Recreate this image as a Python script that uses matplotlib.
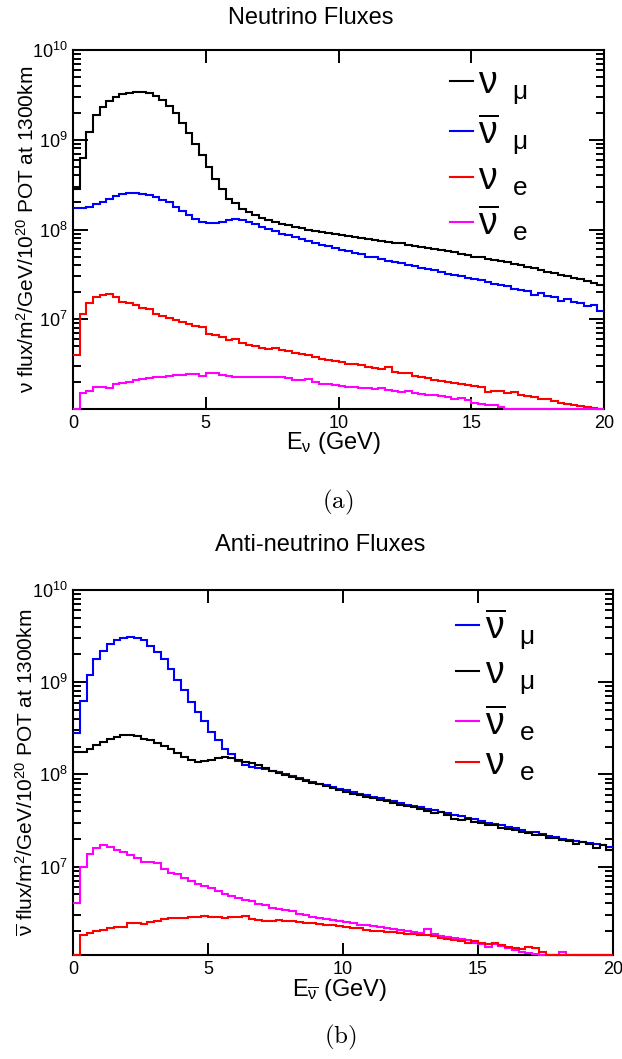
import numpy as np
import matplotlib
matplotlib.use('Agg')
import matplotlib.pyplot as plt
from matplotlib import font_manager

# pick a narrow helvetica-like face if there is one
def have_font(name):
    try:
        font_manager.findfont(font_manager.FontProperties(family=name), fallback_to_default=False)
        return True
    except ValueError:
        return False

fam = 'Liberation Sans Narrow' if have_font('Liberation Sans Narrow') else 'Liberation Sans'
plt.rcParams['font.family'] = [fam, 'DejaVu Sans']
plt.rcParams['mathtext.fontset'] = 'custom'
plt.rcParams['mathtext.rm'] = fam
plt.rcParams['mathtext.it'] = fam
plt.rcParams['mathtext.sf'] = fam
plt.rcParams['mathtext.bf'] = fam + ':bold'

# energy bins, GeV
energy_edges = np.linspace(0, 20, 81)
FLUX_UNIT = 1e6

# neutrino mode (FHC), flux in units of 1e6
fhc_numu = [280, 630, 1230, 1900, 2300, 2700, 3000, 3200,
            3350, 3400, 3400, 3300, 3100, 2800, 2400, 2000,
            1550, 1200, 900, 680, 500, 370, 280, 220,
            195, 170, 155, 145, 135, 127, 121, 116,
            112, 108, 104, 100, 97, 94, 92, 89,
            87, 85, 83, 81, 79, 77, 75, 73,
            71, 70, 68, 66, 64, 62, 61, 59,
            57, 56, 54, 52, 50, 49, 47, 46,
            44.5, 43, 41, 40, 38, 37, 35.5, 34,
            33, 31.5, 30.5, 29, 28, 26.5, 25.5, 24]
fhc_numubar = [175, 172, 180, 190, 205, 220, 235, 250,
               255, 255, 250, 240, 230, 215, 200, 180,
               160, 145, 132, 122, 118, 117, 122, 128,
               131, 128, 122, 115, 108, 102, 96, 90,
               86, 82, 78, 74, 71, 68, 65, 62,
               59, 57, 55, 53, 50, 49, 47, 45,
               43, 42, 40, 39, 37, 36, 35, 34,
               32, 31, 30, 29, 28, 27.5, 26, 25,
               24, 23.5, 22, 21, 20.5, 18.5, 19.5, 18,
               17.5, 16, 17, 15.5, 15, 14, 14.5, 12.5]
fhc_nue = [4.0, 11.3, 15, 17.5, 18.5, 19, 17.5, 15.5,
           15, 14.5, 13.5, 13, 11.5, 10.8, 10.2, 9.8,
           9.3, 8.8, 8.5, 8.2, 6.8, 6.7, 6.3, 5.9,
           6.0, 5.5, 5.2, 5.0, 4.8, 4.7, 4.8, 4.5,
           4.4, 4.2, 4.1, 4.0, 3.8, 3.6, 3.5, 3.4,
           3.3, 3.2, 3.15, 3.1, 2.95, 2.85, 2.8, 2.95,
           2.6, 2.5, 2.55, 2.35, 2.3, 2.2, 2.1, 2.05,
           2.0, 1.95, 1.9, 1.85, 1.8, 1.75, 1.55, 1.6,
           1.6, 1.5, 1.55, 1.45, 1.4, 1.35, 1.3, 1.28,
           1.22, 1.18, 1.15, 1.12, 1.08, 1.05, 1.03, 1.0]
fhc_nuebar = [0.9, 1.5, 1.58, 1.75, 1.78, 1.7, 1.9, 1.95,
              2.0, 2.1, 2.15, 2.2, 2.3, 2.3, 2.35, 2.4,
              2.4, 2.45, 2.45, 2.35, 2.5, 2.5, 2.4, 2.35,
              2.3, 2.3, 2.25, 2.25, 2.25, 2.3, 2.3, 2.25,
              2.2, 2.1, 2.1, 2.15, 2.0, 1.9, 1.9, 1.85,
              1.8, 1.78, 1.75, 1.72, 1.7, 1.68, 1.7, 1.62,
              1.6, 1.55, 1.58, 1.52, 1.48, 1.45, 1.42, 1.38,
              1.35, 1.3, 1.32, 1.25, 1.18, 1.15, 1.1, 1.1,
              1.05, 0.9, 0.9, 0.9, 0.9, 0.9, 0.9, 0.9,
              0.9, 0.9, 0.9, 0.9, 0.9, 0.9, 0.9, 0.9]

# anti-neutrino mode (RHC)
rhc_numubar = [280, 620, 1200, 1800, 2200, 2600, 2850, 3050,
               3100, 3050, 2850, 2500, 2100, 1800, 1400, 1050,
               820, 610, 470, 380, 290, 235, 190, 165,
               140, 128, 121, 117, 115, 110, 105, 100,
               95, 91, 87, 83, 79, 76, 73, 70,
               67, 64, 62, 60, 57, 55, 53, 51,
               49, 47, 46, 44, 42, 41, 39, 38,
               36, 35, 34, 32.5, 31, 30, 29, 28,
               27, 26, 25, 24, 23.5, 22.5, 21.5, 21,
               20, 19.5, 19, 18.5, 18, 17.5, 17, 16.5]
rhc_numu = [175, 176, 190, 210, 225, 240, 255, 265,
            265, 260, 245, 235, 220, 205, 190, 170,
            155, 142, 138, 140, 145, 150, 155, 152,
            145, 138, 132, 127, 116, 110, 104, 99,
            94, 90, 85, 81, 78, 74, 71, 68,
            65, 62, 60, 57, 55, 53, 51, 49,
            47, 45, 44, 42, 40, 38, 39, 36,
            33, 32, 33, 30.5, 29.5, 28, 28.5, 26.5,
            25.5, 25, 23.5, 23, 22, 22, 20.5, 20.5,
            19.5, 19, 17.5, 18.5, 17.5, 16, 17, 15]
rhc_nuebar = [4.0, 10, 13.8, 15.8, 17, 16.2, 15.2, 14.5,
              13.5, 12.5, 11.2, 11.2, 11, 9.5, 8.6, 8.3,
              7.5, 7.0, 6.5, 6.1, 5.8, 5.4, 5.0, 4.8,
              4.6, 4.3, 4.2, 3.9, 3.8, 3.6, 3.45, 3.35,
              3.3, 3.1, 3.0, 2.85, 2.8, 2.7, 2.65, 2.6,
              2.5, 2.45, 2.35, 2.3, 2.25, 2.2, 2.15, 2.1,
              2.05, 2.0, 1.95, 1.9, 2.1, 1.85, 1.78, 1.72,
              1.7, 1.62, 1.6, 1.5, 1.45, 1.35, 1.45, 1.38,
              1.3, 1.25, 1.2, 1.15, 1.12, 1.0, 1.0, 1.0,
              1.2, 1.0, 1.0, 1.0, 1.0, 1.0, 1.0, 1.0]
rhc_nue = [1.0, 1.8, 1.9, 2.0, 2.05, 2.15, 2.2, 2.2,
           2.45, 2.45, 2.4, 2.5, 2.6, 2.7, 2.75, 2.75,
           2.8, 2.85, 2.85, 2.9, 2.85, 2.85, 2.8, 2.85,
           2.85, 2.9, 2.7, 2.65, 2.6, 2.55, 2.65, 2.6,
           2.55, 2.5, 2.45, 2.45, 2.4, 2.35, 2.3, 2.25,
           2.2, 2.15, 2.15, 2.05, 2.0, 2.0, 1.95, 1.95,
           1.9, 1.85, 1.85, 1.8, 1.8, 1.75, 1.7, 1.65,
           1.6, 1.55, 1.5, 1.55, 1.5, 1.45, 1.48, 1.42,
           1.35, 1.3, 1.28, 1.35, 1.32, 1.2, 1.0, 1.0,
           1.0, 1.0, 1.0, 1.0, 1.0, 1.0, 1.0, 1.0]

x_ticks = [0, 5, 10, 15, 20]
x_ticklabels = ['0', '5', '10', '15', '20']
y_ticks = [1e7, 1e8, 1e9, 1e10]
y_ticklabels = [r'$10^{7}$', r'$10^{8}$', r'$10^{9}$', r'$10^{10}$']

lab_numu = r'$\nu\ \,_{\mu}$'
lab_numubar = r'$\overline{\nu}\ \,_{\mu}$'
lab_nue = r'$\nu\ \,_{e}$'
lab_nuebar = r'$\overline{\nu}\ \,_{e}$'

top_series = [(fhc_numu, 'black', lab_numu), (fhc_numubar, '#0000ff', lab_numubar),
              (fhc_nue, '#ff0000', lab_nue), (fhc_nuebar, '#ff00ff', lab_nuebar)]
bot_series = [(rhc_numubar, '#0000ff', lab_numubar), (rhc_numu, 'black', lab_numu),
              (rhc_nuebar, '#ff00ff', lab_nuebar), (rhc_nue, '#ff0000', lab_nue)]

W, H = 622, 1059
fig = plt.figure(figsize=(W / 100, H / 100), dpi=100)


def box(l, t, r, b):
    return [l / W, 1 - b / H, (r - l) / W, (b - t) / H]


def draw_panel(ax, series, ymin, h_px):
    for vals, col, lab in series:
        v = np.maximum(np.array(vals) * FLUX_UNIT, ymin)
        ax.stairs(v, energy_edges, baseline=None, color=col, lw=1.5,
                  label=lab, zorder=3, clip_on=False)
    ax.set_yscale('log')
    ax.set_xlim(0, 20)
    ax.set_ylim(ymin, 1e10)
    ax.set_xticks(x_ticks)
    ax.set_xticklabels(x_ticklabels)
    ax.set_yticks(y_ticks)
    ax.set_yticklabels(y_ticklabels)
    ax.yaxis.set_minor_locator(matplotlib.ticker.LogLocator(base=10, subs=np.arange(2, 10)))
    ax.yaxis.set_minor_formatter(matplotlib.ticker.NullFormatter())
    ax.xaxis.set_minor_locator(matplotlib.ticker.NullLocator())
    ax.tick_params(axis='both', which='both', direction='in', top=True, right=True,
                   labelsize=13, width=1.4)
    ax.tick_params(axis='x', which='major', length=9, pad=4)
    ax.tick_params(axis='y', which='major', length=11, pad=4)
    ax.tick_params(axis='y', which='minor', length=5.5)
    for sp in ax.spines.values():
        sp.set_linewidth(1.5)
    ax.legend(loc='upper left', bbox_to_anchor=(0.71, 1 - 16 / h_px), frameon=False,
              fontsize=27, handlelength=0.6, handletextpad=0.15, labelspacing=0.12,
              borderpad=0, borderaxespad=0)


ax1 = fig.add_axes(box(73, 50, 604, 409))
draw_panel(ax1, top_series, 1.0e6, 359)
ax2 = fig.add_axes(box(73, 590, 613, 955))
draw_panel(ax2, bot_series, 1.1e6, 365)

fig.text(311 / W, 1 - 18 / H, 'Neutrino Fluxes', ha='center', va='center', fontsize=17)
fig.text(320 / W, 1 - 545 / H, 'Anti-neutrino Fluxes', ha='center', va='center', fontsize=17)
fig.text(27 / W, 1 - 229 / H, r'$\nu$ flux/m$^{2}$/GeV/10$^{20}$ POT at 1300km',
         rotation=90, ha='center', va='center', fontsize=15)
fig.text(27 / W, 1 - 772 / H, r'$\overline{\nu}$ flux/m$^{2}$/GeV/10$^{20}$ POT at 1300km',
         rotation=90, ha='center', va='center', fontsize=15)
fig.text(334 / W, 1 - 443 / H, r'E$_{\nu}$ (GeV)', ha='center', va='center', fontsize=17)
fig.text(340 / W, 1 - 990 / H, r'E$_{\overline{\nu}}$ (GeV)', ha='center', va='center', fontsize=17)
fig.text(338 / W, 1 - 502 / H, r'$(\mathrm{a})$', ha='center', va='center', fontsize=18,
         math_fontfamily='cm')
fig.text(340 / W, 1 - 1037 / H, r'$(\mathrm{b})$', ha='center', va='center', fontsize=18,
         math_fontfamily='cm')

fig.savefig('out.png', dpi=100)
